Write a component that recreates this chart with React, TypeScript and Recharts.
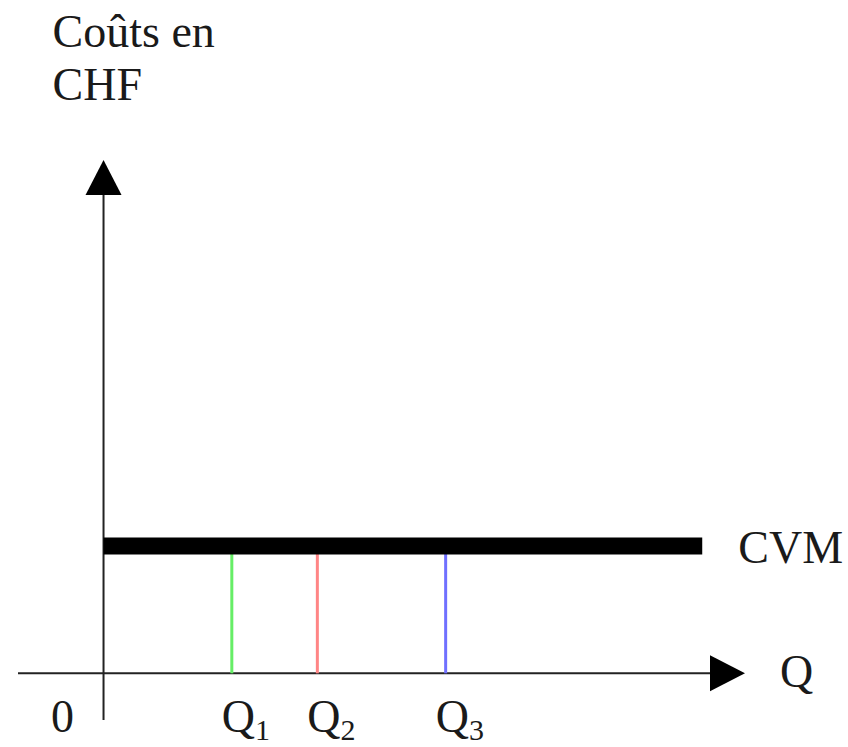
import React from 'react';
import { ComposedChart, Line, XAxis, YAxis, ReferenceDot } from 'recharts';

// quantities marked on the horizontal axis
const quantities = [3, 5, 8];
const quantitySubs = ['1', '2', '3'];
const quantityColors = ['#66ee66', '#ff8585', '#7070ff'];

// average variable cost level (flat) and where it stops
const cvmLevel = 3;
const cvmStart = 0;
const cvmEnd = 14;

// axis extents
const xDomain = [-2, 15];
const yDomain = [-1.1, 12.1];

const FONT = '"Liberation Serif", "Times New Roman", serif';
const INK = '#1a1a1a';

const xAxisLine = [
  { x: xDomain[0], y: 0 },
  { x: 14.5, y: 0 },
];
const yAxisLine = [
  { x: 0, y: yDomain[0] },
  { x: 0, y: 11.6 },
];
const cvmLine = [
  { x: cvmStart, y: cvmLevel },
  { x: cvmEnd, y: cvmLevel },
];

const QTick = (props: any) => {
  const { x, y, payload } = props;
  const v = payload.value;
  if (v === 0) {
    return (
      <text x={x - 41} y={y + 12} textAnchor="middle" fontFamily={FONT} fontSize={46} fill={INK}>
        0
      </text>
    );
  }
  const i = quantities.indexOf(v);
  return (
    <text x={x - 10} y={y + 12} textAnchor="start" fontFamily={FONT} fontSize={46} fill={INK}>
      Q
      <tspan fontSize={30} dy={8}>
        {quantitySubs[i]}
      </tspan>
    </text>
  );
};

const ArrowRight = (props: any) => {
  const { cx, cy } = props;
  return (
    <g>
      <polygon points={`${cx},${cy} ${cx - 35},${cy - 18} ${cx - 35},${cy + 18}`} fill="#000" />
      <text x={cx + 35} y={cy + 14} fontFamily={FONT} fontSize={46} fill={INK}>
        Q
      </text>
    </g>
  );
};

const ArrowUp = (props: any) => {
  const { cx, cy } = props;
  return (
    <g>
      <polygon points={`${cx},${cy} ${cx - 18},${cy + 35} ${cx + 18},${cy + 35}`} fill="#000" />
      <text x={cx - 51} y={cy - 113} fontFamily={FONT} fontSize={46} fill={INK}>
        Coûts en
      </text>
      <text x={cx - 51} y={cy - 60} fontFamily={FONT} fontSize={46} fill={INK}>
        CHF
      </text>
    </g>
  );
};

const CvmLabel = (props: any) => {
  const { cx, cy } = props;
  return (
    <text x={cx + 36} y={cy + 17} fontFamily={FONT} fontSize={46} fill={INK}>
      CVM
    </text>
  );
};

const App: React.FC = () => {
  return (
    <div style={{ position: 'absolute', left: 0, top: 0, width: 848, height: 747, background: '#fff' }}>
      <ComposedChart
        width={848}
        height={747}
        margin={{ top: 160, right: 103, bottom: 0, left: 18 }}
      >
        <XAxis
          type="number"
          dataKey="x"
          domain={xDomain}
          ticks={[0, ...quantities]}
          interval={0}
          tick={<QTick />}
          axisLine={false}
          tickLine={false}
          tickSize={0}
          tickMargin={0}
          height={27}
          allowDataOverflow
        />
        <YAxis type="number" dataKey="y" domain={yDomain} hide width={0} allowDataOverflow />

        <Line data={xAxisLine} dataKey="y" type="linear" stroke="#222" strokeWidth={2} dot={false} activeDot={false} isAnimationActive={false} />
        <Line data={yAxisLine} dataKey="y" type="linear" stroke="#222" strokeWidth={2} dot={false} activeDot={false} isAnimationActive={false} />

        {quantities.map((q, i) => (
          <Line
            key={q}
            data={[
              { x: q, y: 0 },
              { x: q, y: cvmLevel },
            ]}
            dataKey="y"
            type="linear"
            stroke={quantityColors[i]}
            strokeWidth={3}
            dot={false}
            activeDot={false}
            isAnimationActive={false}
          />
        ))}

        <Line
          data={cvmLine}
          dataKey="y"
          type="linear"
          stroke="#000"
          strokeWidth={17}
          strokeLinecap="butt"
          dot={false}
          activeDot={false}
          isAnimationActive={false}
        />

        <ReferenceDot x={xDomain[1]} y={0} r={0} ifOverflow="visible" shape={<ArrowRight />} />
        <ReferenceDot x={0} y={yDomain[1]} r={0} ifOverflow="visible" shape={<ArrowUp />} />
        <ReferenceDot x={cvmEnd} y={cvmLevel} r={0} ifOverflow="visible" shape={<CvmLabel />} />
      </ComposedChart>
    </div>
  );
};

export default App;
